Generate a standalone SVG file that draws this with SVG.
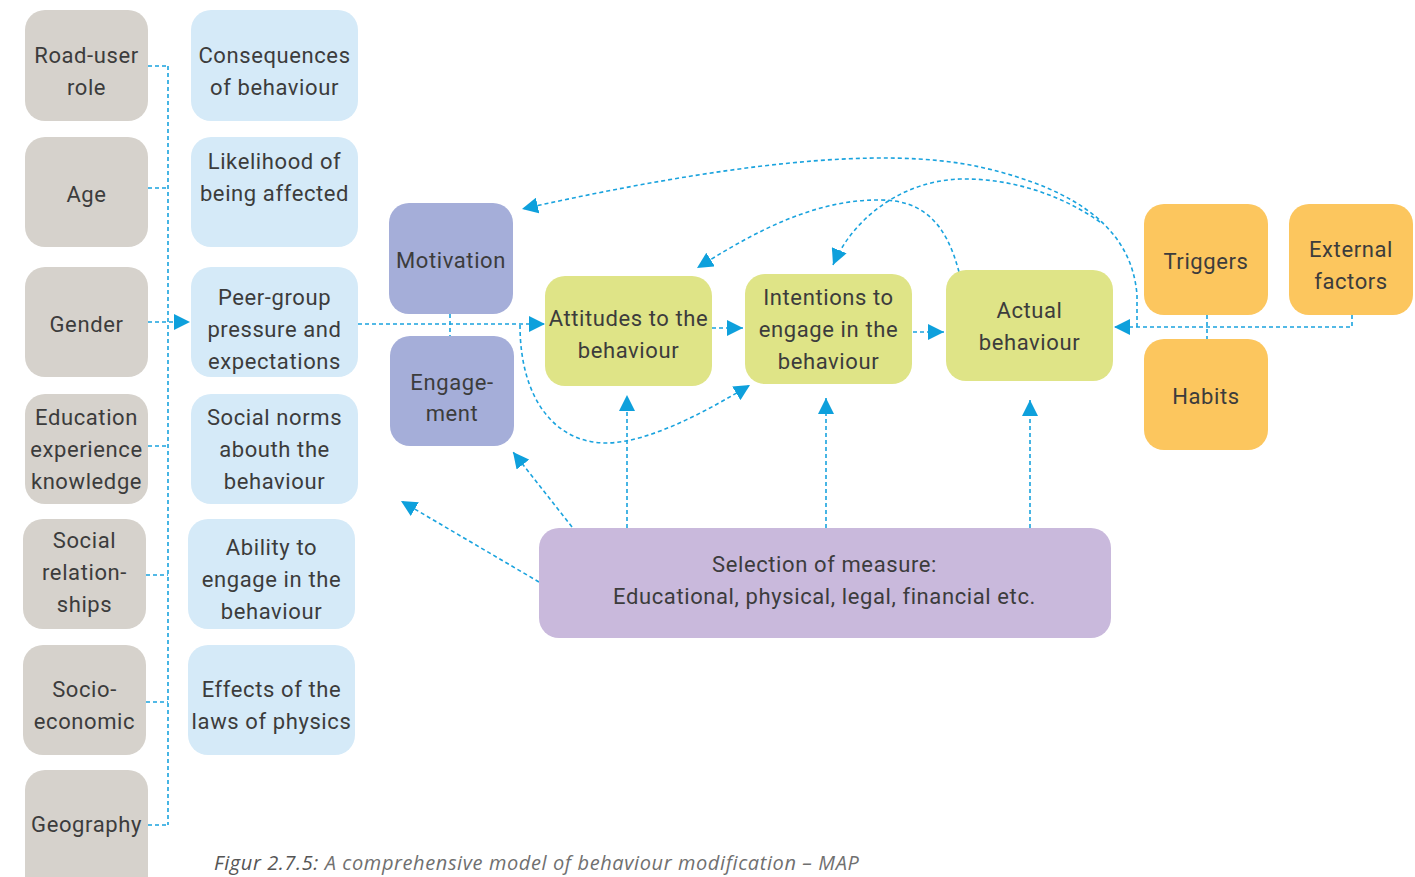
<svg xmlns="http://www.w3.org/2000/svg" width="1415" height="877" viewBox="0 0 1415 877">
<defs>
<style>
.t{font-family:Roboto,"Liberation Sans",sans-serif;font-size:22px;fill:#3c3c3c;text-anchor:middle;letter-spacing:0.6px}
.g{fill:#d6d2cc}
.b{fill:#d5eaf8}
.p{fill:#a5aed9}
.y{fill:#dfe487}
.o{fill:#fcc65e}
.l{fill:#c9b9dc}
.c{fill:none;stroke:#1aa3de;stroke-width:1.6;stroke-dasharray:4 3}
.a{marker-end:url(#ah)}
.cap{font-family:"Open Sans","Liberation Sans",sans-serif;font-size:20px;font-style:italic;fill:#707070;letter-spacing:0.6px}
</style>
<marker id="ah" viewBox="0 0 10 10" refX="10" refY="5" markerWidth="16" markerHeight="16" markerUnits="userSpaceOnUse" orient="auto">
<path d="M0,0 L10,5 L0,10 z" fill="#0ea0dc"/>
</marker>
</defs>
<rect width="1415" height="877" fill="#ffffff"/>

<g id="connectors">
<path class="c" d="M168 66 V825"/>
<path class="c" d="M148 66 H168 M148 188 H168 M148 446 H168 M146 575 H168 M146 702 H168 M148 825 H168"/>
<path class="c a" d="M148 322 H190"/>
<path class="c a" d="M358 324 H545"/>
<path class="c" d="M450 314 V336"/>
<path class="c a" d="M712 328 H743"/>
<path class="c a" d="M913 332 H944"/>
<path class="c a" d="M1352 315 V327 H1114"/>
<path class="c" d="M1207 315 V339"/>
<path class="c a" d="M1137 327 L1137 295 C1132 232 1082 190 980 167 C880 145 720 165 522 209"/>
<path class="c a" d="M1100 222 C1060 194 1010 178 960 179 C900 181 852 220 833 265"/>
<path class="c a" d="M959 272 C946 222 922 200 880 200 C810 199 745 238 697 268"/>
<path class="c a" d="M520 325 C520 400 556 443 606 443 C650 443 712 408 750 385"/>
<path class="c a" d="M627 528 V395"/>
<path class="c a" d="M826 528 V398"/>
<path class="c a" d="M1030 528 V400"/>
<path class="c a" d="M572 527 L513 452"/>
<path class="c a" d="M539 582 L401 501"/>
</g>

<g id="n-road"><rect class="g" x="25" y="10" width="123" height="111" rx="20"/><text class="t" x="86.5" y="63">Road-user</text><text class="t" x="86.5" y="95">role</text></g>
<g id="n-age"><rect class="g" x="25" y="137" width="123" height="110" rx="20"/><text class="t" x="86.5" y="202">Age</text></g>
<g id="n-gender"><rect class="g" x="25" y="267" width="123" height="110" rx="20"/><text class="t" x="86.5" y="332">Gender</text></g>
<g id="n-edu"><rect class="g" x="25" y="394" width="123" height="110" rx="20"/><text class="t" x="86.5" y="425">Education</text><text class="t" x="86.5" y="457">experience</text><text class="t" x="86.5" y="489">knowledge</text></g>
<g id="n-social"><rect class="g" x="23" y="519" width="123" height="110" rx="20"/><text class="t" x="84.5" y="548">Social</text><text class="t" x="84.5" y="580">relation-</text><text class="t" x="84.5" y="612">ships</text></g>
<g id="n-socio"><rect class="g" x="23" y="645" width="123" height="110" rx="20"/><text class="t" x="84.5" y="697">Socio-</text><text class="t" x="84.5" y="729">economic</text></g>
<g id="n-geo"><rect class="g" x="25" y="770" width="123" height="130" rx="20"/><text class="t" x="86.5" y="832">Geography</text></g>

<g id="n-cons"><rect class="b" x="191" y="10" width="167" height="111" rx="20"/><text class="t" x="274.5" y="63">Consequences</text><text class="t" x="274.5" y="95">of behaviour</text></g>
<g id="n-like"><rect class="b" x="191" y="137" width="167" height="110" rx="20"/><text class="t" x="274.5" y="169">Likelihood of</text><text class="t" x="274.5" y="201">being affected</text></g>
<g id="n-peer"><rect class="b" x="191" y="267" width="167" height="110" rx="20"/><text class="t" x="274.5" y="305">Peer-group</text><text class="t" x="274.5" y="337">pressure and</text><text class="t" x="274.5" y="369">expectations</text></g>
<g id="n-norms"><rect class="b" x="191" y="394" width="167" height="110" rx="20"/><text class="t" x="274.5" y="425">Social norms</text><text class="t" x="274.5" y="457">abouth the</text><text class="t" x="274.5" y="489">behaviour</text></g>
<g id="n-ability"><rect class="b" x="188" y="519" width="167" height="110" rx="20"/><text class="t" x="271.5" y="555">Ability to</text><text class="t" x="271.5" y="587">engage in the</text><text class="t" x="271.5" y="619">behaviour</text></g>
<g id="n-effects"><rect class="b" x="188" y="645" width="167" height="110" rx="20"/><text class="t" x="271.5" y="697">Effects of the</text><text class="t" x="271.5" y="729">laws of physics</text></g>

<g id="n-motivation"><rect class="p" x="389" y="203" width="124" height="111" rx="20"/><text class="t" x="451" y="268">Motivation</text></g>
<g id="n-engagement"><rect class="p" x="390" y="336" width="124" height="110" rx="20"/><text class="t" x="452" y="390">Engage-</text><text class="t" x="452" y="421">ment</text></g>

<g id="n-attitudes"><rect class="y" x="545" y="276" width="167" height="110" rx="20"/><text class="t" x="628.5" y="326">Attitudes to the</text><text class="t" x="628.5" y="358">behaviour</text></g>
<g id="n-intentions"><rect class="y" x="745" y="274" width="167" height="110" rx="20"/><text class="t" x="828.5" y="305">Intentions to</text><text class="t" x="828.5" y="337">engage in the</text><text class="t" x="828.5" y="369">behaviour</text></g>
<g id="n-actual"><rect class="y" x="946" y="270" width="167" height="111" rx="20"/><text class="t" x="1029.5" y="318">Actual</text><text class="t" x="1029.5" y="350">behaviour</text></g>

<g id="n-triggers"><rect class="o" x="1144" y="204" width="124" height="111" rx="20"/><text class="t" x="1206" y="269">Triggers</text></g>
<g id="n-external"><rect class="o" x="1289" y="204" width="124" height="111" rx="20"/><text class="t" x="1351" y="257">External</text><text class="t" x="1351" y="289">factors</text></g>
<g id="n-habits"><rect class="o" x="1144" y="339" width="124" height="111" rx="20"/><text class="t" x="1206" y="404">Habits</text></g>

<g id="n-selection"><rect class="l" x="539" y="528" width="572" height="110" rx="20"/><text class="t" x="824.5" y="572">Selection of measure:</text><text class="t" x="824.5" y="604">Educational, physical, legal, financial etc.</text></g>

<text class="cap" x="214" y="870"><tspan fill="#555">Figur 2.7.5:</tspan> A comprehensive model of behaviour modification – MAP</text>
</svg>
